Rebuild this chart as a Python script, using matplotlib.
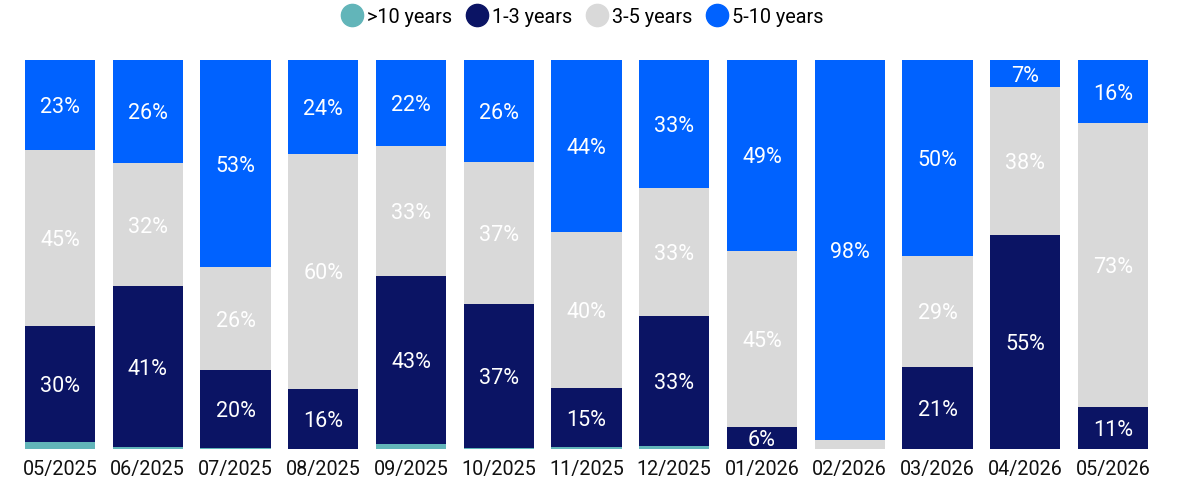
import matplotlib.pyplot as plt
from matplotlib.lines import Line2D
import numpy as np

plt.rcParams['font.family'] = ['Roboto', 'DejaVu Sans']

# Months shown on the x axis
months = ['05/2025', '06/2025', '07/2025', '08/2025', '09/2025', '10/2025', '11/2025',
          '12/2025', '01/2026', '02/2026', '03/2026', '04/2026', '05/2026']

# Share (%) by maturity bucket, stacked bottom to top
over_10 = [1.8, 0.5, 0.3, 0.0, 1.3, 0.3, 0.5, 0.8, 0.0, 0.0, 0.0, 0.0, 0.0]
y1_3 = [29.8, 41.3, 20.1, 15.5, 43.3, 36.9, 15.2, 33.4, 5.6, 0.0, 21.1, 54.9, 10.8]
y3_5 = [45.3, 31.8, 26.3, 60.3, 33.2, 36.6, 40.2, 32.8, 45.4, 2.3, 28.6, 38.1, 72.9]
y5_10 = [23.1, 26.4, 53.3, 24.2, 22.2, 26.2, 44.1, 33.0, 49.0, 97.7, 50.3, 7.0, 16.3]

series = [('>10 years', over_10, '#62B5B9'),
          ('1-3 years', y1_3, '#0B1464'),
          ('3-5 years', y3_5, '#D9D9D9'),
          ('5-10 years', y5_10, '#0062FF')]

fig = plt.figure(figsize=(11.83, 4.85), dpi=100)
ax = fig.add_axes([0.0136, 0.0722, 0.9643, 0.802])

x = np.arange(len(months))
bottom = np.zeros(len(months))
for name, vals, color in series:
    vals = np.array(vals)
    ax.bar(x, vals, bottom=bottom, width=0.8, color=color, label=name)
    for xi, b, v in zip(x, bottom, vals):
        if v >= 5:
            ax.text(xi, b + v / 2 - 0.4, f'{v:.0f}%', ha='center', va='center',
                    color='white', fontsize=15.5)
    bottom += vals

ax.set_xlim(-0.5, 12.5)
ax.set_ylim(0, 100)
ax.set_xticks(x)
ax.set_xticklabels(months, fontsize=14.2, color='#111111')
ax.tick_params(axis='x', length=0, pad=7)
ax.set_yticks([])
for s in ax.spines.values():
    s.set_visible(False)

handles = [Line2D([], [], marker='o', linestyle='', markersize=16, color=c)
           for _, _, c in series]
fig.legend(handles, [n for n, _, _ in series], loc='center', ncol=4,
           bbox_to_anchor=(0.492, 0.964), frameon=False, fontsize=14.3,
           handletextpad=0.15, columnspacing=0.65, handlelength=1.2)

fig.savefig('out.png', dpi=100)
